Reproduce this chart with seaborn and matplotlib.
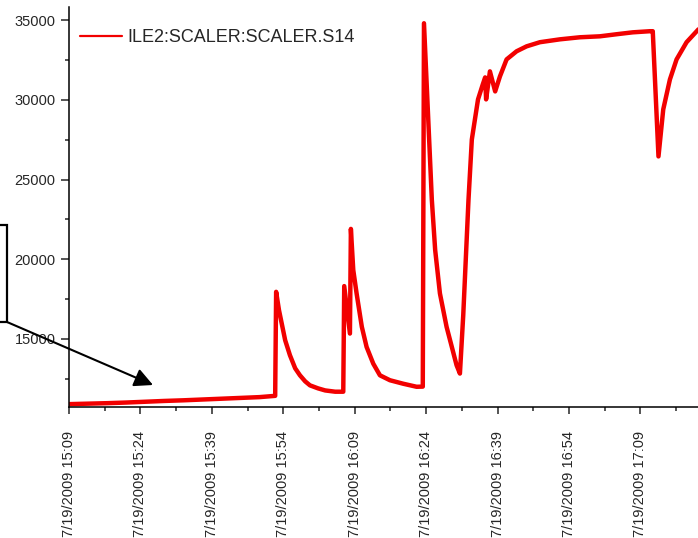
import numpy as np
import pandas as pd
import matplotlib
matplotlib.use("Agg")
import matplotlib.pyplot as plt
import matplotlib.dates as mdates
from matplotlib.ticker import AutoMinorLocator
from matplotlib.patches import Rectangle
import seaborn as sns

# minutes after 7/19/2009 15:09 and scaler counts
minutes = [0, 4, 8, 12, 16, 20, 24, 28, 32, 36, 40, 43.3,
           43.5, 44.1, 45.4, 46.4, 47.5, 48.5, 49.6, 50.6, 52.3, 53.8, 55.9, 57.6,
           57.8, 59.0, 59.2, 59.7, 60.4, 61.5, 62.5, 63.9, 65.3, 67.4, 70.2, 73.0, 74.3,
           74.55, 76.2, 76.9, 77.9, 79.3, 80.4, 81.4, 82.1,
           82.8, 83.9, 84.6, 85.9, 86.9, 87.4, 87.6, 88.4, 89.5, 90.5, 91.9, 94.0, 96.1,
           98.9, 103.1, 107.3, 111.5, 115.0, 118.4, 122.0, 122.6,
           123.8, 124.8, 126.2, 127.6, 129.7, 132.2]
counts = [10900, 10930, 10960, 11000, 11050, 11100, 11140, 11190, 11240, 11290, 11340, 11420,
          17950, 16800, 14910, 13970, 13150, 12710, 12330, 12080, 11890, 11760, 11680, 11680,
          18310, 15330, 21900, 19320, 17850, 15750, 14490, 13440, 12710, 12400, 12180, 11990, 12000,
          34810, 23730, 20580, 17850, 15750, 14490, 13340, 12820,
          16500, 23730, 27510, 30030, 30970, 31410, 30030, 31790, 30530, 31470, 32540, 33050, 33360,
          33620, 33800, 33930, 33990, 34120, 34240, 34310, 34310,
          26450, 29400, 31280, 32540, 33620, 34430]
series_name = "ILE2:SCALER:SCALER.S14"

start = pd.Timestamp("2009-07-19 15:09")
df = pd.DataFrame({
    "time": start + pd.to_timedelta(minutes, unit="min"),
    "counts": counts,
    "series": series_name,
})

sns.set_style("ticks")
plt.rcParams["font.family"] = ["Liberation Sans", "DejaVu Sans"]

fig = plt.figure(figsize=(6.98, 5.38), dpi=100)
ax = fig.add_axes([69 / 698, 1 - 407 / 538, 1 - 69 / 698, (407 - 7) / 538])

sns.lineplot(data=df, x="time", y="counts", hue="series", palette=["#f20000"],
             linewidth=3.2, ax=ax)

ax.set_xlim(start, start + pd.Timedelta(minutes=132.1))
ax.set_ylim(10720, 35830)
ax.set_xlabel("")
ax.set_ylabel("")

ax.xaxis.set_major_locator(mdates.MinuteLocator(byminute=[9, 24, 39, 54]))
ax.xaxis.set_major_formatter(mdates.DateFormatter("%-m/%d/%Y %H:%M"))
ax.xaxis.set_minor_locator(AutoMinorLocator(2))
ax.set_yticks([15000, 20000, 25000, 30000, 35000])
ax.yaxis.set_minor_locator(AutoMinorLocator(2))

ax.tick_params(axis="x", which="major", length=5, width=1.1, pad=12, labelsize=10.5)
ax.tick_params(axis="y", which="major", length=5.8, width=1.1, pad=4, labelsize=10.5)
ax.tick_params(which="minor", length=3, width=1.1)
for lbl in ax.get_xticklabels():
    lbl.set_rotation(90)
    lbl.set_ha("center")
    lbl.set_va("top")

sns.despine(ax=ax)
for s in ["left", "bottom"]:
    ax.spines[s].set_linewidth(1.1)
    ax.spines[s].set_color("black")

leg = ax.legend(loc="upper left", bbox_to_anchor=(80 / 698, 1 - 29 / 538),
                bbox_transform=fig.transFigure, frameon=False, fontsize=13,
                handlelength=2.3, handletextpad=0.35, borderpad=0, borderaxespad=0)
for h in leg.get_lines():
    h.set_linewidth(1.6)

# bracket box and arrow on the left edge
fig.add_artist(Rectangle((-0.05, 1 - 322 / 538), 0.05 + 7 / 698, 97 / 538,
                         transform=fig.transFigure, fill=False, edgecolor="black", lw=1.6))
ax.annotate("", xy=(153 / 698, 1 - 385 / 538), xytext=(7 / 698, 1 - 322 / 538),
            xycoords="figure fraction", textcoords="figure fraction",
            arrowprops=dict(arrowstyle="-|>", mutation_scale=28, lw=1.5, color="black",
                            shrinkA=0, shrinkB=0))

fig.savefig("out.png", dpi=100)
